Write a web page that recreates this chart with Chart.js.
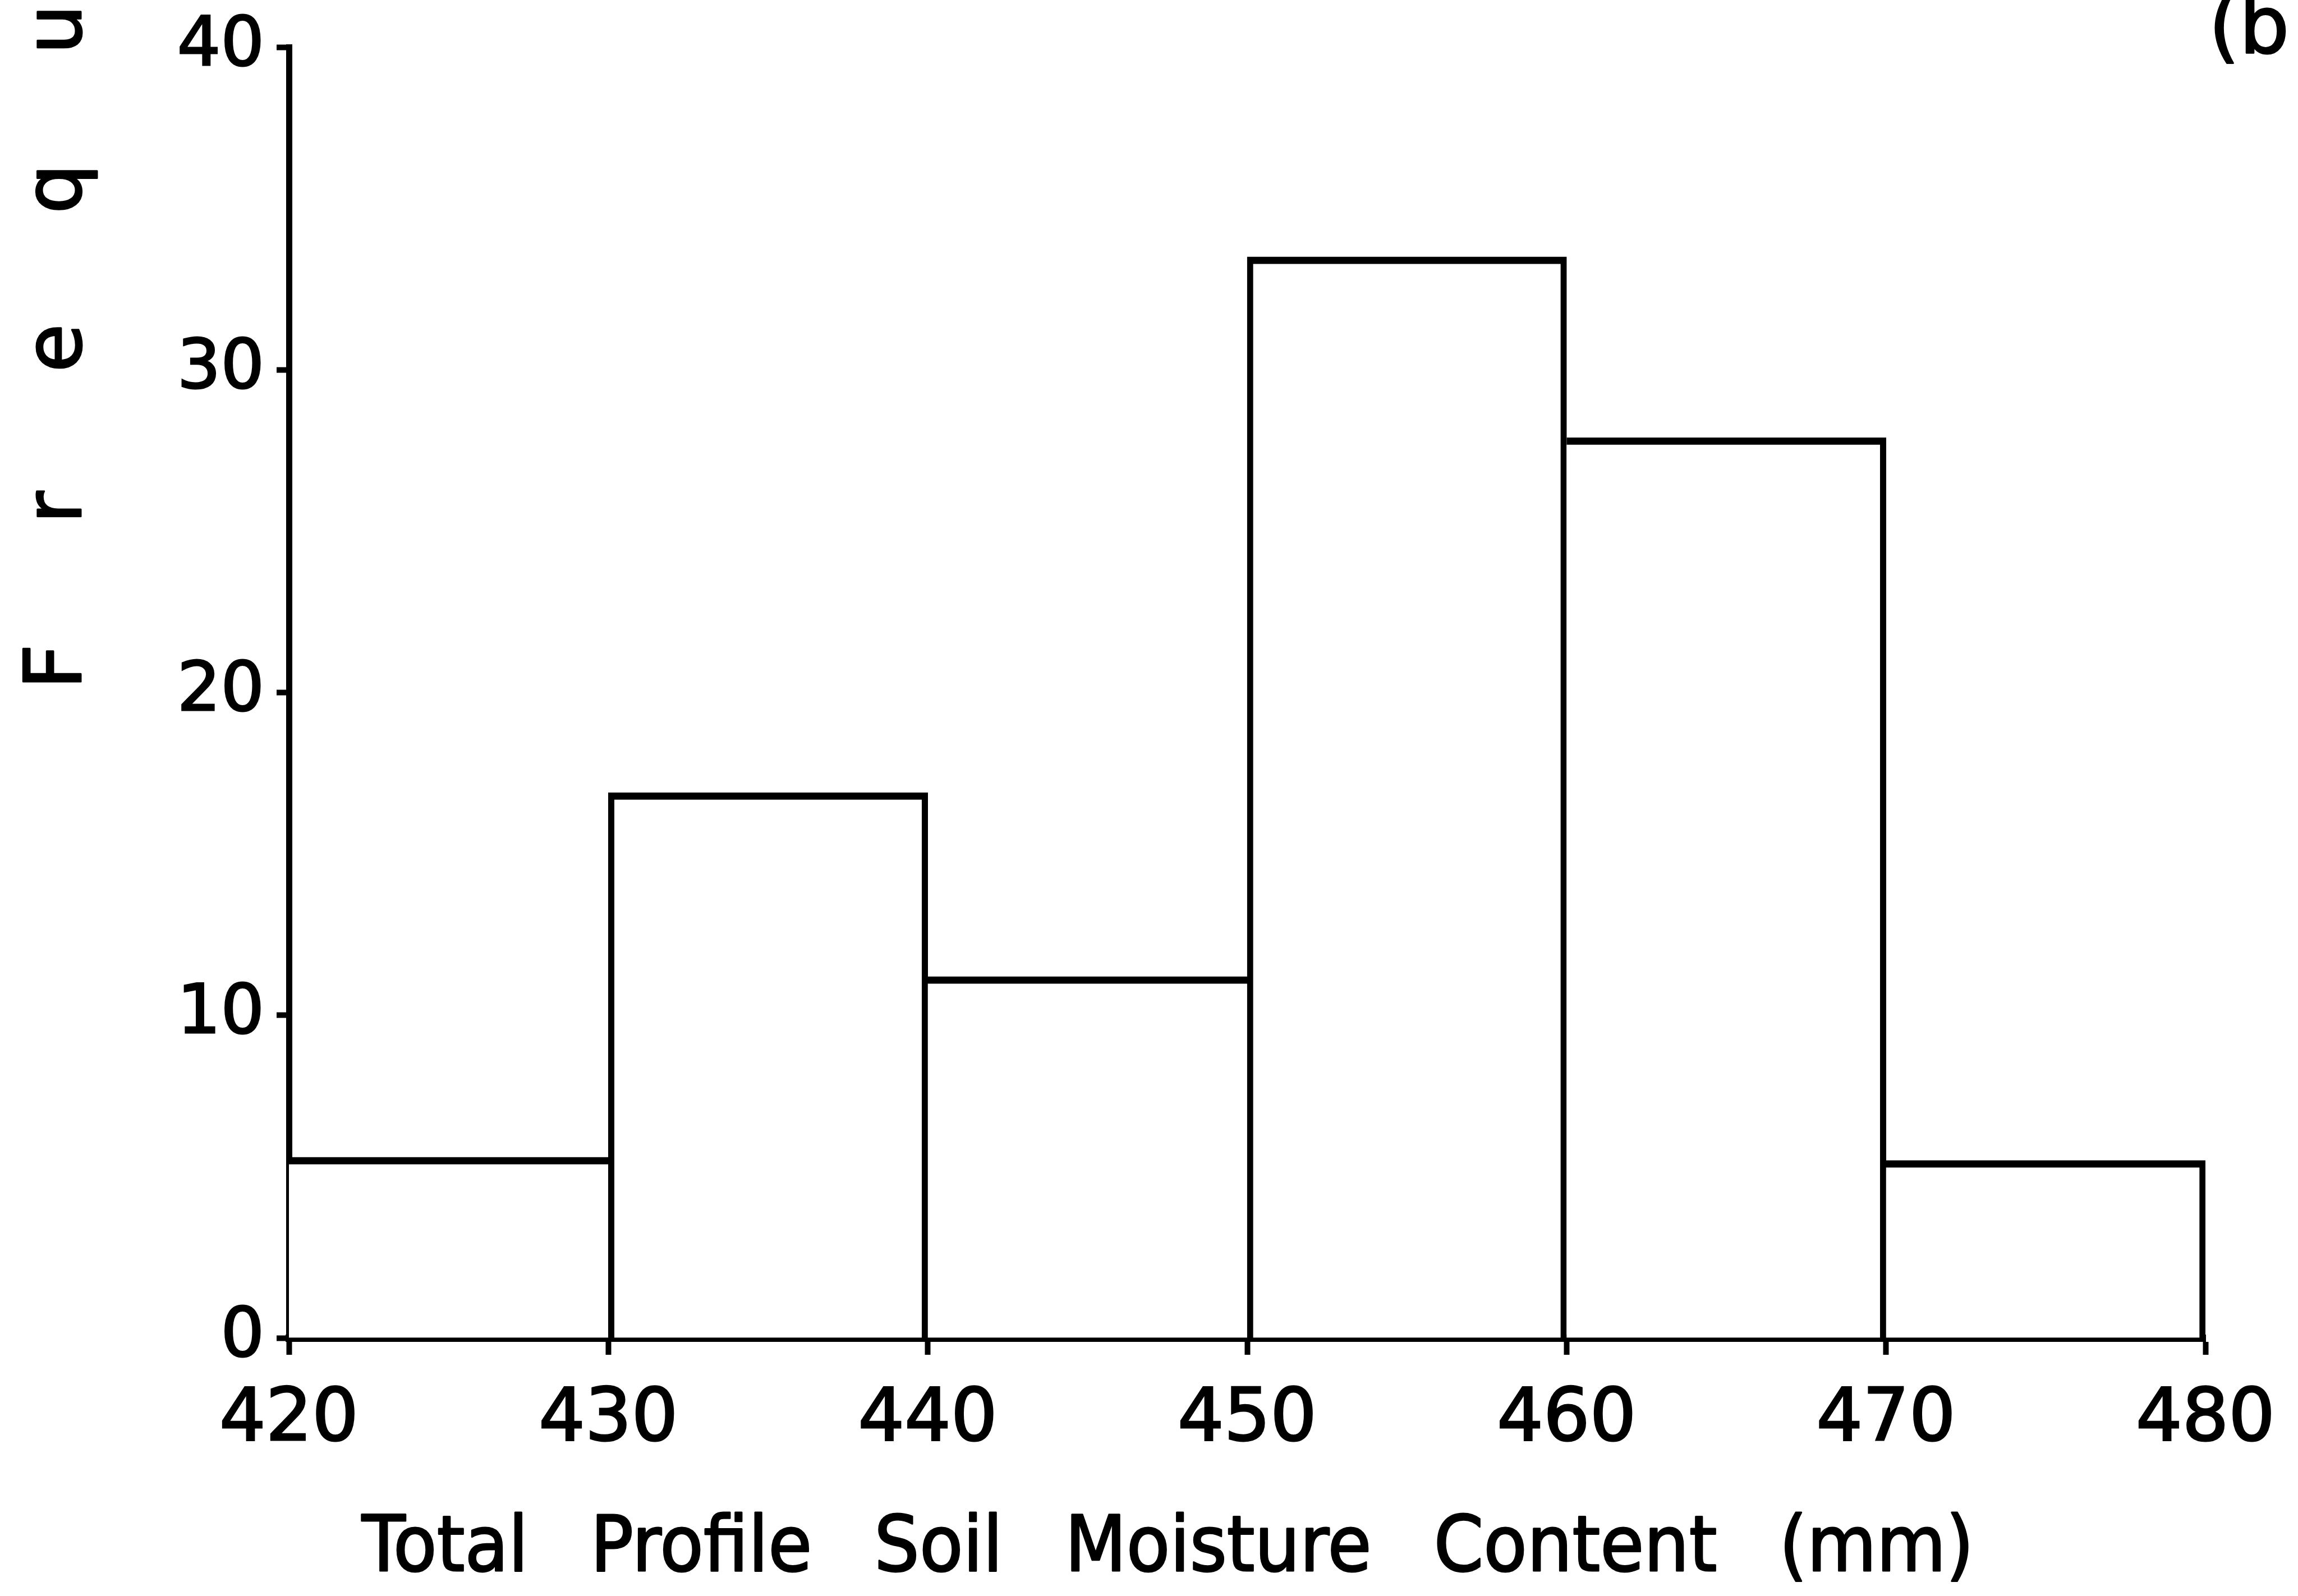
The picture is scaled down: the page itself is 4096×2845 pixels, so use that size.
<!DOCTYPE html>
<html>
<head>
<meta charset="utf-8">
<script src="https://cdn.jsdelivr.net/npm/chart.js@4.4.0/dist/chart.umd.min.js"></script>
<style>
  html, body { margin: 0; padding: 0; background: #fff; }
  #wrap { width: 4096px; height: 2845px; }
</style>
</head>
<body>
<div id="wrap"><canvas id="histChart"></canvas></div>
<script>
// histogram bins (mm) and frequencies
var binStarts = [420, 430, 440, 450, 460, 470];
var binWidth = 10;
var freqValues = [5.6, 16.9, 11.2, 33.5, 27.9, 5.5];
var xTicks = [420, 430, 440, 450, 460, 470, 480];
var yTicks = [0, 10, 20, 30, 40];
var xTitleWords = ["Total", "Profile", "Soil", "Moisture", "Content", "(mm)"];
var yTitle = "Frequency";
var panelLabel = "(b";

var barPoints = binStarts.map(function (s, i) {
    return { x: s + binWidth / 2, y: freqValues[i] };
});

var LINE = 11;
// shared bin edges are drawn once, by the taller of the two bars
function edgeWidths(ctx) {
    var i = ctx.dataIndex;
    var h = freqValues;
    var left = (i > 0 && h[i] >= h[i - 1]) ? LINE : 0;
    var right = (i === h.length - 1 || h[i] > h[i + 1]) ? LINE : 0;
    return { top: LINE + 2, left: left, right: right, bottom: 0 };
}

// fill + thin stroke, the original lettering is a bit heavier than DejaVu Book
function heavyText(ctx, txt, x, y) {
    ctx.fillText(txt, x, y);
    ctx.strokeText(txt, x, y);
}

var textPlugin = {
    id: 'textPlugin',
    afterDraw: function (chart) {
        var ctx = chart.ctx;
        var area = chart.chartArea;
        var h = area.bottom - area.top;
        ctx.save();
        ctx.fillStyle = '#000';
        ctx.strokeStyle = '#000';
        ctx.lineWidth = 3;
        ctx.lineJoin = 'round';
        ctx.textBaseline = 'alphabetic';

        // y title, spaced letters reading upwards (runs off the top)
        ctx.font = '140px "DejaVu Sans"';
        ctx.textAlign = 'center';
        ctx.save();
        ctx.translate(144, area.top + h * 0.48);
        ctx.rotate(-Math.PI / 2);
        for (var i = 0; i < yTitle.length; i++) {
            heavyText(ctx, yTitle[i], i * 284, 0);
        }
        ctx.restore();

        // x title, wide word gaps
        var sx = 0.92;
        var x0 = 645, x1 = 3518;
        ctx.font = '138px "DejaVu Sans"';
        ctx.textAlign = 'left';
        var widths = xTitleWords.map(function (w) { return ctx.measureText(w).width * sx; });
        var total = widths.reduce(function (a, b) { return a + b; }, 0);
        var gap = (x1 - x0 - total) / (xTitleWords.length - 1);
        var x = x0;
        xTitleWords.forEach(function (w, k) {
            ctx.save();
            ctx.translate(x, 2800);
            ctx.scale(sx, 1);
            heavyText(ctx, w, 0, 0);
            ctx.restore();
            x += widths[k] + gap;
        });

        // panel label, cut by the frame like the original
        ctx.font = '140px "DejaVu Sans"';
        heavyText(ctx, panelLabel, 3937, 94);
        ctx.restore();
    }
};

new Chart("histChart", {
    type: "bar",
    data: {
        datasets: [{
            data: barPoints,
            backgroundColor: "#ffffff",
            borderColor: "#000000",
            borderWidth: edgeWidths,
            borderSkipped: false,
            barPercentage: 1.0,
            categoryPercentage: 1.0
        }]
    },
    options: {
        responsive: true,
        maintainAspectRatio: false,
        animation: false,
        layout: { padding: { top: 84, right: 165, left: 0, bottom: 0 } },
        plugins: {
            legend: { display: false },
            tooltip: { enabled: false },
            title: { display: false }
        },
        scales: {
            x: {
                type: "linear",
                min: 420,
                max: 480,
                offset: false,
                afterBuildTicks: function (scale) {
                    scale.ticks = xTicks.map(function (v) { return { value: v }; });
                },
                afterFit: function (scale) {
                    scale.height = 460;
                    scale.paddingLeft = 0;
                    scale.paddingRight = 0;
                },
                grid: {
                    display: true,
                    offset: false,
                    drawOnChartArea: false,
                    drawTicks: true,
                    tickLength: 30,
                    tickWidth: 10,
                    tickColor: "#000"
                },
                border: { display: true, color: "#000", width: 13 },
                ticks: {
                    color: "#000",
                    padding: 40,
                    maxRotation: 0,
                    textStrokeColor: "#000",
                    textStrokeWidth: 3,
                    font: { family: "DejaVu Sans", size: 130 }
                }
            },
            y: {
                min: 0,
                max: 40,
                afterBuildTicks: function (scale) {
                    scale.ticks = yTicks.map(function (v) { return { value: v }; });
                },
                afterFit: function (scale) {
                    scale.width = 515;
                    scale.paddingTop = 0;
                    scale.paddingBottom = 0;
                },
                grid: {
                    display: true,
                    drawOnChartArea: false,
                    drawTicks: true,
                    tickLength: 22,
                    tickWidth: 10,
                    tickColor: "#000"
                },
                border: { display: true, color: "#000", width: 11 },
                ticks: {
                    color: "#000",
                    padding: 22,
                    textStrokeColor: "#000",
                    textStrokeWidth: 3,
                    font: { family: "DejaVu Sans", size: 122 }
                }
            }
        }
    },
    plugins: [textPlugin]
});
</script>
</body>
</html>
